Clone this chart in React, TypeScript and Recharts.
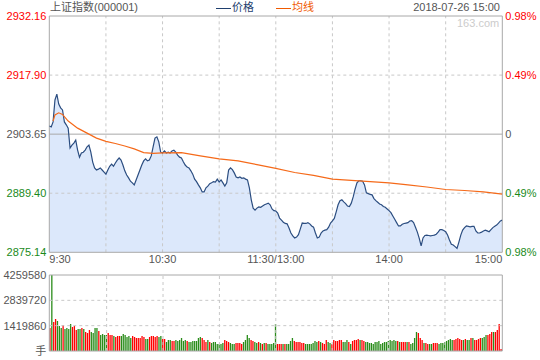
import React from 'react';
import { ComposedChart, Area, Line, XAxis, YAxis, ReferenceLine, BarChart, Bar, Cell } from 'recharts';

const prevClose = 2903.65;
const priceTicks = [2875.14, 2889.4, 2903.65, 2917.9, 2932.16];
const timeTicks = [0, 30, 60, 90, 120, 150, 180, 210, 240];
const timeLabels: Record<number, string> = { 0: '9:30', 60: '10:30', 120: '11:30/13:00', 180: '14:00', 240: '15:00' };
const volumeTicks = [0, 1419860, 2839720, 4259580];

const priceValues = [
  2905.6, 2905.4, 2906.6, 2911.9, 2913.3, 2910.9, 2910.0, 2909.5, 2906.6, 2905.9,
  2905.1, 2900.3, 2901.0, 2901.5, 2902.2, 2899.8, 2898.1, 2899.1, 2899.3, 2899.8,
  2900.6, 2901.0, 2899.3, 2896.9, 2895.5, 2895.0, 2895.2, 2895.5, 2895.0, 2894.5,
  2894.0, 2895.0, 2895.9, 2896.4, 2895.9, 2896.7, 2897.4, 2897.9, 2897.4, 2896.2,
  2894.8, 2893.8, 2893.1, 2892.3, 2891.9, 2891.4, 2892.6, 2893.8, 2895.0, 2896.2,
  2897.2, 2897.7, 2897.2, 2897.4, 2898.4, 2900.6, 2902.7, 2903.0, 2901.8, 2899.3,
  2899.1, 2899.6, 2899.1, 2899.3, 2899.1, 2899.6, 2899.8, 2899.3, 2898.6, 2898.1,
  2897.9, 2897.0, 2896.2, 2895.7, 2895.5, 2894.8, 2894.0, 2892.8, 2892.2, 2891.4,
  2890.7, 2889.7, 2889.7, 2890.7, 2891.1, 2891.7, 2891.9, 2892.2, 2892.1, 2892.8,
  2892.1, 2892.6, 2891.9, 2891.1, 2891.9, 2895.0, 2895.5, 2895.1, 2894.3, 2893.3,
  2893.1, 2893.3, 2893.0, 2893.1, 2892.8, 2892.6, 2890.7, 2887.8, 2885.8, 2885.3,
  2885.8, 2886.1, 2886.0, 2886.3, 2886.6, 2886.8, 2887.0, 2886.6, 2885.6, 2885.2,
  2885.1, 2884.6, 2883.4, 2882.9, 2882.4, 2882.1, 2882.0, 2881.0, 2879.8, 2879.1,
  2878.6, 2878.8, 2879.4, 2880.8, 2882.2, 2882.1, 2882.1, 2882.3, 2882.0, 2881.5,
  2881.2, 2879.8, 2878.6, 2878.8, 2879.8, 2880.3, 2880.5, 2880.6, 2881.2, 2882.2,
  2882.7, 2883.3, 2884.9, 2886.6, 2887.6, 2887.8, 2887.3, 2886.9, 2886.3, 2886.2,
  2887.0, 2888.5, 2890.4, 2891.9, 2892.4, 2892.4, 2892.3, 2891.4, 2889.5, 2889.3,
  2889.1, 2889.0, 2888.1, 2887.6, 2887.2, 2886.8, 2886.6, 2886.2, 2886.0, 2885.6,
  2885.2, 2884.7, 2883.9, 2883.1, 2882.3, 2881.5, 2881.5, 2881.9, 2882.1, 2882.2,
  2882.3, 2882.7, 2882.8, 2882.3, 2881.2, 2880.0, 2878.5, 2876.7, 2878.6, 2879.2,
  2879.3, 2879.2, 2879.1, 2879.2, 2879.3, 2879.5, 2880.0, 2880.6, 2880.6, 2880.4,
  2880.1, 2879.3, 2878.1, 2877.1, 2876.9, 2876.5, 2876.1, 2877.6, 2879.3, 2880.5,
  2881.1, 2881.5, 2881.4, 2881.3, 2881.4, 2881.4, 2880.3, 2879.8, 2879.8, 2880.0,
  2880.3, 2880.5, 2880.3, 2880.1, 2880.6, 2881.1, 2881.4, 2881.7, 2882.2, 2882.7,
  2882.9,
];

const avgMinutes = [2, 3, 5, 7, 10, 15, 20, 25, 30, 35, 40, 45, 50, 55, 60, 70, 80, 90, 100, 110, 120, 130, 140, 150, 160, 170, 180, 190, 200, 210, 220, 230, 240];
const avgValues = [
  2906.8, 2908.3, 2908.8, 2908.4, 2906.8, 2905.1, 2903.9, 2902.7, 2901.9, 2901.4,
  2900.8, 2900.1, 2899.2, 2899.0, 2899.15, 2899.2, 2898.4, 2897.7, 2897.2, 2896.3,
  2895.4, 2894.4, 2893.7, 2892.8, 2892.5, 2892.2, 2891.9, 2891.4, 2890.9, 2890.3,
  2890.05, 2889.7, 2889.2,
];

const volumeValues = [
  1289000, 4259580, 1625000, 1794000, 1681000, 1401000, 1289000, 1457000, 1233000, 1289000,
  1233000, 1513000, 1345000, 1401000, 1177000, 1233000, 1233000, 1289000, 1233000, 1065000,
  1009000, 1177000, 1065000, 1009000, 1289000, 1289000, 1121000, 897000, 953000, 897000,
  897000, 1009000, 897000, 897000, 841000, 785000, 841000, 841000, 841000, 953000,
  897000, 785000, 841000, 729000, 841000, 785000, 729000, 729000, 729000, 841000,
  785000, 673000, 673000,
  785000, 841000, 841000, 785000, 841000, 785000,
  841000, 673000, 673000, 504000, 617000, 617000, 560000, 560000, 617000, 560000,
  617000, 729000, 560000, 617000, 560000, 504000, 504000, 560000, 560000, 560000,
  729000, 785000, 729000, 617000, 504000, 617000, 504000, 448000, 504000, 504000,
  392000, 392000, 392000, 448000, 617000, 560000, 504000, 448000, 392000, 392000,
  448000, 448000, 448000, 392000, 504000, 617000, 897000, 729000, 617000, 560000,
  504000, 448000, 504000, 448000, 392000, 448000, 448000,
  392000, 392000, 392000, 448000, 1513000,
  392000, 392000, 392000, 392000, 392000, 392000, 392000, 560000, 729000, 560000,
  504000, 504000, 504000, 448000, 448000, 392000, 392000, 392000, 392000, 448000,
  560000, 504000, 560000, 504000, 448000, 392000, 617000, 504000, 448000, 392000,
  617000, 560000, 560000, 617000, 617000, 504000, 504000, 617000, 504000, 392000,
  560000, 617000, 617000, 673000, 617000, 617000, 560000, 504000, 504000, 448000,
  448000, 392000, 504000, 504000, 560000, 392000, 448000, 504000, 504000, 560000,
  617000, 560000, 617000, 560000, 560000, 504000, 504000, 504000, 504000, 504000,
  504000, 392000, 448000, 729000, 1065000, 1009000, 729000, 617000, 448000, 448000,
  392000, 392000, 392000, 448000, 448000, 448000, 392000, 448000, 448000, 504000,
  560000, 617000, 673000, 617000, 617000, 673000, 729000, 673000, 617000, 617000,
  673000, 617000, 617000, 729000, 729000, 617000, 617000, 673000, 729000, 729000,
  785000, 897000, 897000, 953000, 1065000, 1065000, 1065000, 1177000, 1513000, 112000,
];

// r = up (red), g = down (green), one letter per minute bar
const volumeDirection = (
  'rgrrgggrgg' + 'ggrrrggrgr' + 'rrggggrggg' + 'grrrgrrrgg' + 'ggggrrrrrr' + 'rgg' +
  'rrrrrg' +
  'grrgggrrgg' + 'ggggrggggg' + 'ggrrrgrggg' + 'ggggrrrggg' + 'rrrrggggrr' + 'ggrgrgr' +
  'ggggg' +
  'rrrgrggggr' + 'rrrrrggggg' + 'ggrgrrrggr' +
  'rrrrrgggrg' + 'rrrrgrrggg' + 'gggggggggg' +
  'ggggrgrrrg' + 'rggggrrrgr' + 'rggrrrgggg' +
  'ggggrrrrrg' + 'rggrgrrrrg' + 'ggrrrgrrrr'
).split('');

const RED = '#ff0000';
const GREEN = '#1a8a1a';
const GRAY = '#555555';
const BAR_GREEN = '#2a8c1a';
const GRID = '#c8c8c8';
const BORDER = '#a8a8a8';
const PRICE_COLOR = '#2b4d80';
const AVG_COLOR = '#f56a1a';
const FONT = '"Liberation Sans", Arial, "Noto Sans CJK SC", sans-serif';

const priceRows = priceValues.map((p, i) => {
  const k = avgMinutes.indexOf(i);
  return { t: i, price: p, avg: k >= 0 ? avgValues[k] : null };
});
const volumeRows = volumeValues.map((v, i) => ({ t: i, v, d: volumeDirection[i] }));

const colorFor = (v: number) => (v > prevClose + 1e-6 ? RED : v < prevClose - 1e-6 ? GREEN : GRAY);

const LeftPriceTick = (props: any) => {
  const { x, y, payload } = props;
  const v = payload.value as number;
  return (
    <text x={x} y={y} dy={4} textAnchor="end" fill={colorFor(v)} fontSize={11} fontFamily={FONT}>
      {v.toFixed(2)}
    </text>
  );
};

const RightPctTick = (props: any) => {
  const { x, y, payload } = props;
  const v = payload.value as number;
  const pct = (Math.abs(v - prevClose) / prevClose) * 100;
  const label = pct < 0.001 ? '0' : pct.toFixed(2) + '%';
  return (
    <text x={x} y={y} dy={4} textAnchor="start" fill={colorFor(v)} fontSize={11} fontFamily={FONT}>
      {label}
    </text>
  );
};

const TimeTick = (props: any) => {
  const { x, y, payload } = props;
  const v = payload.value as number;
  const label = timeLabels[v];
  if (!label) return <g />;
  const anchor = v === 0 ? 'start' : v === 240 ? 'end' : 'middle';
  return (
    <text x={x} y={y} dy={11} textAnchor={anchor} fill={GRAY} fontSize={11} fontFamily={FONT}>
      {label}
    </text>
  );
};

const VolumeTick = (props: any) => {
  const { x, y, payload } = props;
  const v = payload.value as number;
  return (
    <text x={x} y={y} dy={4} textAnchor="end" fill={GRAY} fontSize={11} fontFamily={FONT}>
      {v === 0 ? '手' : String(v)}
    </text>
  );
};

export default function App() {
  const innerTimes = timeTicks.filter((t) => t > 0 && t < 240);
  return (
    <div style={{ position: 'absolute', left: 0, top: 0, width: 540, height: 360, background: '#fff', fontFamily: FONT }}>
      <div style={{ position: 'absolute', left: 50, top: 0, fontSize: 11, lineHeight: '14px', color: GRAY, whiteSpace: 'nowrap' }}>
        上证指数(000001)
      </div>
      <div style={{ position: 'absolute', left: 216, top: 0, fontSize: 11, lineHeight: '14px', color: '#1f3f6e', whiteSpace: 'nowrap' }}>
        <span style={{ display: 'inline-block', width: 15, height: 1, background: '#1f3f6e', verticalAlign: 'middle', marginRight: 1 }} />
        价格
      </div>
      <div style={{ position: 'absolute', left: 276, top: 0, fontSize: 11, lineHeight: '14px', color: '#f05a00', whiteSpace: 'nowrap' }}>
        <span style={{ display: 'inline-block', width: 15, height: 1, background: '#f05a00', verticalAlign: 'middle', marginRight: 1 }} />
        均线
      </div>
      <div style={{ position: 'absolute', right: 40, top: 0, fontSize: 11, lineHeight: '14px', color: GRAY, whiteSpace: 'nowrap' }}>
        2018-07-26 15:00
      </div>

      <div style={{ position: 'absolute', left: 0, top: 0 }}>
        <ComposedChart width={540} height={270} data={priceRows} margin={{ top: 16, right: 0, bottom: 2.7, left: 0 }}>
          <XAxis
            dataKey="t"
            type="number"
            domain={[0, 240]}
            ticks={timeTicks}
            interval={0}
            tick={<TimeTick />}
            tickLine={false}
            axisLine={false}
            tickSize={0}
            tickMargin={0}
            height={15}
            allowDataOverflow
          />
          <YAxis
            yAxisId="l"
            domain={[2875.14, 2932.16]}
            ticks={priceTicks}
            interval={0}
            width={49.3}
            tick={<LeftPriceTick />}
            tickLine={false}
            axisLine={false}
            tickSize={3}
            tickMargin={0}
            allowDataOverflow
          />
          <YAxis
            yAxisId="r"
            orientation="right"
            domain={[2875.14, 2932.16]}
            ticks={priceTicks}
            interval={0}
            width={37.7}
            tick={<RightPctTick />}
            tickLine={false}
            axisLine={false}
            tickSize={3}
            tickMargin={0}
            allowDataOverflow
          />
          <Area
            yAxisId="l"
            type="linear"
            dataKey="price"
            stroke="none"
            fill="#dce8fb"
            fillOpacity={1}
            baseValue="dataMin"
            isAnimationActive={false}
            dot={false}
            activeDot={false}
          />
          {innerTimes.map((t) => (
            <ReferenceLine key={'v' + t} yAxisId="l" x={t} stroke={GRID} strokeDasharray="3 3" />
          ))}
          <ReferenceLine yAxisId="l" y={2889.4} stroke={GRID} strokeDasharray="3 3" />
          <ReferenceLine yAxisId="l" y={2917.9} stroke={GRID} strokeDasharray="3 3" />
          <ReferenceLine yAxisId="l" y={2903.65} stroke={BORDER} />
          <ReferenceLine yAxisId="l" y={2932.16} stroke={BORDER} />
          <ReferenceLine yAxisId="l" y={2875.14} stroke={BORDER} />
          <ReferenceLine yAxisId="l" x={0} stroke={BORDER} />
          <ReferenceLine yAxisId="l" x={240} stroke={BORDER} />
          <Line
            yAxisId="l"
            type="linear"
            dataKey="price"
            stroke={PRICE_COLOR}
            strokeWidth={1.2}
            dot={false}
            activeDot={false}
            isAnimationActive={false}
          />
          <Line
            yAxisId="l"
            type="linear"
            dataKey="avg"
            stroke={AVG_COLOR}
            strokeWidth={1.2}
            dot={false}
            activeDot={false}
            connectNulls
            isAnimationActive={false}
          />
        </ComposedChart>
      </div>

      <div style={{ position: 'absolute', left: 0, top: 260 }}>
        <BarChart width={540} height={100} data={volumeRows} margin={{ top: 15, right: 37.7, bottom: 9, left: 0 }}>
          <XAxis dataKey="t" type="number" domain={[-0.5, 240.5]} hide allowDataOverflow />
          <YAxis
            domain={[0, 4259580]}
            ticks={volumeTicks}
            interval={0}
            width={49.3}
            tick={<VolumeTick />}
            tickLine={false}
            axisLine={false}
            tickSize={3}
            tickMargin={0}
            allowDataOverflow
          />
          <Bar dataKey="v" barSize={1.3} isAnimationActive={false}>
            {volumeRows.map((r, i) => (
              <Cell key={i} fill={r.d === 'r' ? RED : BAR_GREEN} />
            ))}
          </Bar>
          {innerTimes.map((t) => (
            <ReferenceLine key={'vv' + t} x={t} stroke={GRID} strokeDasharray="3 3" />
          ))}
          <ReferenceLine y={1419860} stroke={GRID} strokeDasharray="3 3" />
          <ReferenceLine y={2839720} stroke={GRID} strokeDasharray="3 3" />
          <ReferenceLine y={4259580} stroke={BORDER} />
          <ReferenceLine y={0} stroke={BORDER} />
          <ReferenceLine x={-0.5} stroke={BORDER} />
          <ReferenceLine x={240.5} stroke={BORDER} />
        </BarChart>
      </div>

      <div style={{ position: 'absolute', left: 457, top: 16, fontSize: 11, lineHeight: '14px', color: '#cccccc', whiteSpace: 'nowrap' }}>
        163.com
      </div>
    </div>
  );
}
